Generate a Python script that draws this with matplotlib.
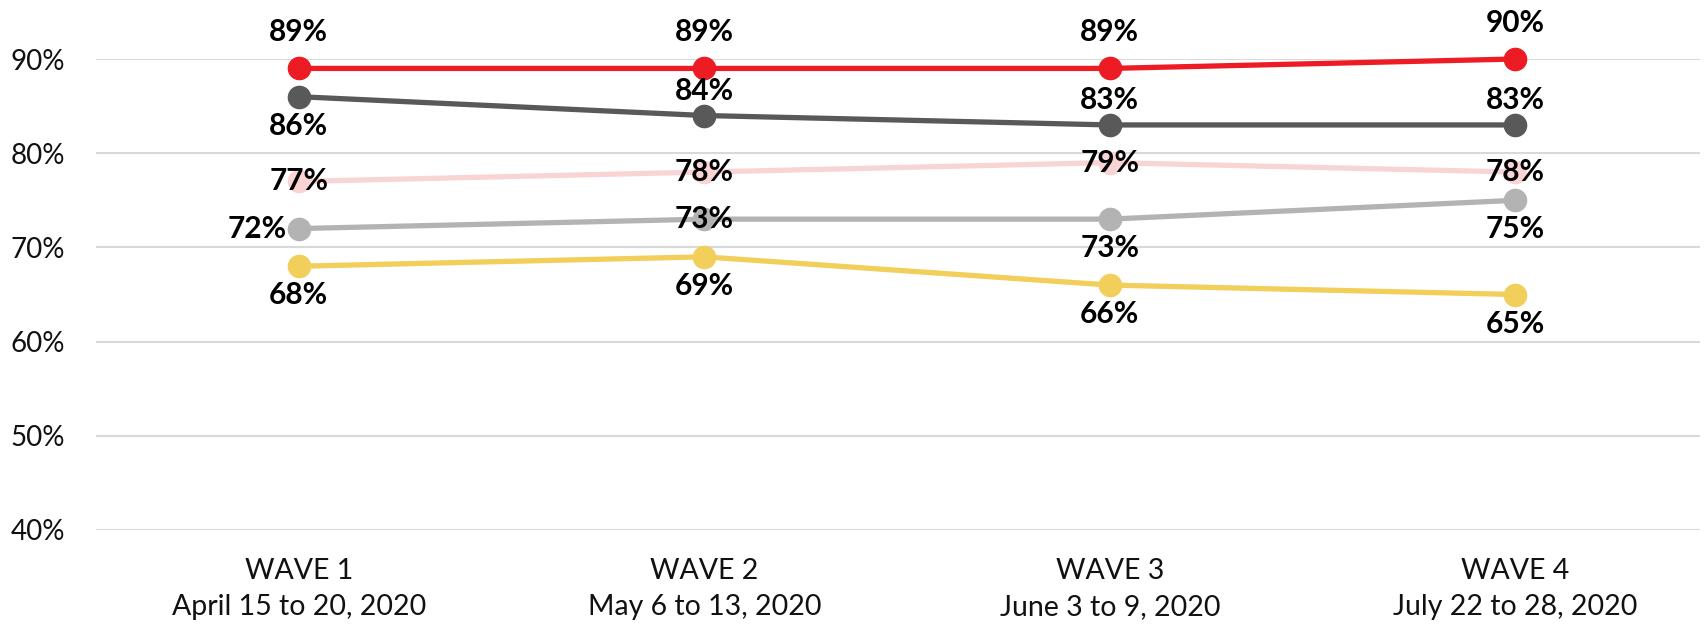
import matplotlib
matplotlib.use("Agg")
import matplotlib.pyplot as plt
from matplotlib.ticker import PercentFormatter

plt.rcParams['font.family'] = ['Lato', 'DejaVu Sans']

waves = ["WAVE 1\nApril 15 to 20, 2020", "WAVE 2\nMay 6 to 13, 2020",
         "WAVE 3\nJune 3 to 9, 2020", "WAVE 4\nJuly 22 to 28, 2020"]

red_vals = [89, 89, 89, 90]
dark_vals = [86, 84, 83, 83]
pink_vals = [77, 78, 79, 78]
gray_vals = [72, 73, 73, 75]
yellow_vals = [68, 69, 66, 65]

# where each data label sits relative to its point
red_pos = ["above", "above", "above", "above"]
dark_pos = ["below", "near_above", "near_above", "near_above"]
pink_pos = ["center", "center", "center", "center"]
gray_pos = ["left", "center", "below", "below"]
yellow_pos = ["below", "below", "below", "below"]

series = [
    (pink_vals, "#F9D4D5", pink_pos),
    (gray_vals, "#B3B3B3", gray_pos),
    (yellow_vals, "#F2CE5B", yellow_pos),
    (dark_vals, "#595959", dark_pos),
    (red_vals, "#ED1C24", red_pos),
]

fig = plt.figure(figsize=(17.04, 6.24), dpi=100)
ax = fig.add_axes([96 / 1704, 94 / 624, (1700 - 96) / 1704, (530 - 59) / 624])

x = list(range(len(waves)))
# offsets in pixels, converted to points
px = 0.72
offsets = {"above": (0, 36 * px), "near_above": (0, 25 * px), "below": (0, -29 * px),
           "center": (0, 0), "left": (-42 * px, 0)}

for vals, color, pos in series:
    ax.plot(x, vals, color=color, lw=3.8, marker="o", ms=16, clip_on=False, zorder=3)

for vals, color, pos in series:
    for xi, v, p in zip(x, vals, pos):
        ax.annotate(f"{v}%", (xi, v), xytext=offsets[p], textcoords="offset points",
                    ha="center", va="center", fontsize=21.5, fontweight="bold",
                    color="black", zorder=5, annotation_clip=False)

ax.set_xlim(-0.5, -0.5 + (1700 - 96) / 405.5)
ax.set_ylim(40, 90)
ax.set_yticks([40, 50, 60, 70, 80, 90])
ax.yaxis.set_major_formatter(PercentFormatter(decimals=0))
ax.set_xticks(x)
ax.set_xticklabels(waves, fontsize=20.5, linespacing=1.5)
ax.tick_params(axis="y", labelsize=20, length=0, pad=22, labelcolor="#111111")
ax.tick_params(axis="x", length=0, pad=20, labelcolor="#111111")
ax.grid(axis="y", color="#D9D9D9", lw=1.5)
ax.set_axisbelow(True)
for s in ax.spines.values():
    s.set_visible(False)

fig.savefig("out.png", dpi=100)
